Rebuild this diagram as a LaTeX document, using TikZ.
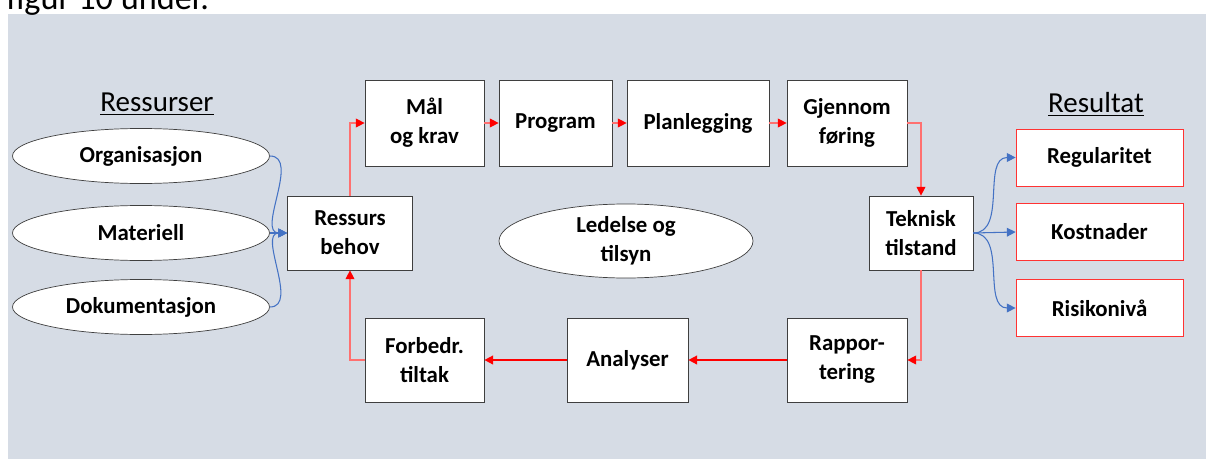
\documentclass[tikz,border=0pt]{standalone}
\usepackage{fontspec}
\setmainfont{Carlito}
\usepackage{tikz}
\usetikzlibrary{arrows.meta,positioning,shapes.geometric}
\definecolor{panelBg}{HTML}{D6DCE5}
\definecolor{linkBlue}{HTML}{4472C4}
\definecolor{flowRed}{HTML}{FF0000}
\definecolor{flowPink}{HTML}{FF7070}
\definecolor{boxEdge}{HTML}{3F3F3F}
\tikzset{
  maintBox/.style={draw=boxEdge, fill=white, align=center, font=\fontsize{13}{16.5}\selectfont\bfseries, inner sep=2pt, minimum height=17.2mm},
  maintEllipse/.style={draw=boxEdge, ellipse, fill=white, align=center, font=\fontsize{13}{16.5}\selectfont\bfseries, inner sep=0pt, minimum width=51.4mm, minimum height=11mm},
  maintResult/.style={draw=flowRed!80, fill=white, align=center, font=\fontsize{13}{16.5}\selectfont\bfseries, inner sep=2pt, minimum width=33.4mm, minimum height=11.4mm},
  maintTitle/.style={font=\fontsize{16.5}{20}\selectfont, inner sep=0pt},
  maintFlow/.style={-{Triangle[length=5pt,width=5pt,color=flowRed]}, draw=flowPink, line width=0.7pt},
  maintArrow/.style={-{Triangle[length=5pt,width=5pt]}, draw=flowRed, line width=0.9pt},
  maintLink/.style={-{Triangle[length=5pt,width=5pt]}, draw=linkBlue, line width=0.6pt}
}
\begin{document}
\begin{tikzpicture}[>=Latex]
      \useasboundingbox (0,0) rectangle (24.12,-9.18);
      \fill[panelBg] (0.16,-0.27) rectangle (24.12,-9.18);
      \node[anchor=base west, font=\fontsize{19.5}{23}\selectfont, inner sep=0pt] (caption) at (0.12,-0.2) {figur 10 under.};
      % ressurser
      \node[maintTitle] (ressurser) at (3.14,-2.08) {\underline{Ressurser}};
      \node[maintEllipse] (org) at (2.82,-3.12) {Organisasjon};
      \node[maintEllipse] (materiell) at (2.82,-4.66) {Materiell};
      \node[maintEllipse] (dok) at (2.82,-6.14) {Dokumentasjon};
      \node[maintBox, minimum width=25mm, minimum height=14.8mm] (behov) at (7.0,-4.66) {Ressurs\\behov};
      % kretslop
      \node[maintBox, minimum width=23.8mm] (maal) at (8.49,-2.46) {Mål\\og krav};
      \node[maintBox, minimum width=22.6mm] (program) at (11.11,-2.46) {Program};
      \node[maintBox, minimum width=28.4mm] (plan) at (13.96,-2.46) {Planlegging};
      \node[maintBox, minimum width=24mm] (gjennom) at (16.94,-2.46) {Gjennom\\føring};
      \node[maintBox, minimum width=20.8mm, minimum height=14.8mm] (teknisk) at (18.42,-4.66) {Teknisk\\tilstand};
      \node[maintBox, minimum width=24mm, minimum height=16.8mm] (rapport) at (16.94,-7.2) {Rappor-\\tering};
      \node[maintBox, minimum width=24.2mm, minimum height=16.8mm] (analyser) at (12.55,-7.2) {Analyser};
      \node[maintBox, minimum width=23.8mm, minimum height=16.8mm] (forbedr) at (8.49,-7.2) {Forbedr.\\tiltak};
      \node[maintEllipse, minimum width=50.8mm, minimum height=14.8mm] (ledelse) at (12.52,-4.82) {Ledelse og\\tilsyn};
      % resultat
      \node[maintTitle] (resultat) at (21.92,-2.08) {\underline{Resultat}};
      \node[maintResult] (regularitet) at (21.99,-3.15) {Regularitet};
      \node[maintResult] (kostnader) at (21.99,-4.64) {Kostnader};
      \node[maintResult] (risiko) at (21.99,-6.16) {Risikonivå};
      \draw[maintLink] (org.east) to[out=0, in=180] (behov.west);
      \draw[maintLink] (materiell.east) -- (behov.west);
      \draw[maintLink] (dok.east) to[out=0, in=180] (behov.west);
      \draw[maintFlow] (behov.north) |- (maal.west);
      \draw[maintFlow] (maal) -- (program);
      \draw[maintFlow] (program) -- (plan);
      \draw[maintFlow] (plan) -- (gjennom);
      \draw[maintFlow] (gjennom.east) -| (teknisk.north);
      \draw[maintFlow] (teknisk.south) |- (rapport.east);
      \draw[maintArrow] (rapport) -- (analyser);
      \draw[maintArrow] (analyser) -- (forbedr);
      \draw[maintFlow] (forbedr.west) -| (behov.south);
      \draw[maintLink] (teknisk.east) to[out=0, in=180] (regularitet.west);
      \draw[maintLink] (teknisk.east) -- (kostnader.west);
      \draw[maintLink] (teknisk.east) to[out=0, in=180] (risiko.west);
    \end{tikzpicture}
\end{document}
